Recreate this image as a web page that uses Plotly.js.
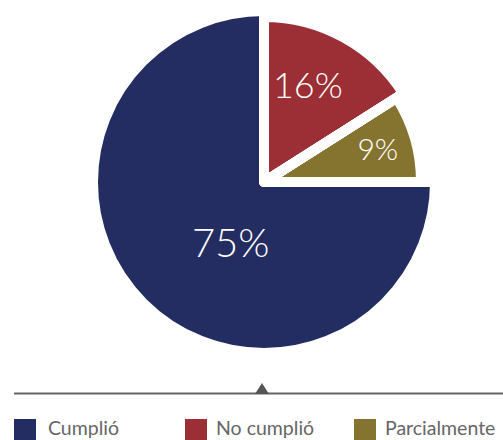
<!DOCTYPE html>
<html><head><meta charset="utf-8">
<script src="https://cdn.plot.ly/plotly-3.0.1.min.js"></script>
<style>html,body{margin:0;padding:0;background:#fff}#chart{width:503px;height:440px}</style>
</head><body><div id="chart"></div>
<script>
// ---- data ----
const labels = ['Cumplió', 'No cumplió', 'Parcialmente'];
const values = [75, 16, 9];
const colors = ['#232d62', '#9b2f35', '#85742f'];

// ---- layout / style (pixels) ----
const W = 503, H = 440, CX = 264, CY = 182;
const sliceRadius = [171, 165, 157];   // each slice drawn at its own radius
const textSizes = [40, 36, 30];
const NB = '\u00a0';
const padBefore = [NB.repeat(5), '', ''];   // nudges labels inside their slices
const padAfter = ['', NB.repeat(2), NB];
const pctFont = 'Lato, "Open Sans", sans-serif';

function dom(R) {
  return {x: [(CX - R) / W, (CX + R) / W], y: [1 - (CY + R) / H, 1 - (CY - R) / H]};
}
const px = x => x / W, py = y => 1 - y / H;

// build one pie per slice radius, smallest first (bottom), larger ones on top
const order = labels.map((_, i) => i).sort((a, b) => sliceRadius[a] - sliceRadius[b]);
const traces = order.map(j => ({
  type: 'pie',
  labels: labels,
  values: values,
  sort: false,
  direction: 'clockwise',
  rotation: 90,
  domain: dom(sliceRadius[j]),
  marker: {
    colors: colors.map((c, i) => sliceRadius[i] >= sliceRadius[j] ? c : 'rgba(0,0,0,0)'),
    line: {color: '#ffffff', width: 10}
  },
  texttemplate: labels.map((_, i) => i === j ? padBefore[i] + '%{percent}' + padAfter[i] : ''),
  textposition: 'inside',
  insidetextorientation: 'horizontal',
  textfont: {family: pctFont, color: '#ffffff', size: textSizes, weight: 300},
  hoverinfo: 'none',
  showlegend: false
}));

// custom legend (squares + labels) and the axis-like rule with a pointer
const legSqX = [14, 185, 354], legTxtX = [49, 217, 386];
const shapes = [
  {type: 'line', xref: 'paper', yref: 'paper', x0: px(14), x1: 1, y0: py(393.5), y1: py(393.5),
   line: {color: '#666666', width: 2}},
  {type: 'path', xref: 'paper', yref: 'paper',
   path: `M ${px(255)},${py(394)} L ${px(269)},${py(394)} L ${px(262)},${py(383)} Z`,
   fillcolor: '#555555', line: {width: 0}}
];
const annotations = [];
labels.forEach((lab, i) => {
  shapes.push({type: 'rect', xref: 'paper', yref: 'paper',
    x0: px(legSqX[i]), x1: px(legSqX[i] + 22), y0: py(440), y1: py(419),
    fillcolor: colors[i], line: {width: 0}});
  annotations.push({xref: 'paper', yref: 'paper', x: px(legTxtX[i] - 2), y: py(427),
    xanchor: 'left', yanchor: 'middle', showarrow: false, text: lab, borderpad: 0,
    font: {family: 'Lato, sans-serif', size: 19.5, color: '#666666'}});
});

const layout = {
  width: W, height: H,
  margin: {l: 0, r: 0, t: 0, b: 0},
  paper_bgcolor: '#ffffff',
  showlegend: false,
  shapes: shapes,
  annotations: annotations
};
Plotly.newPlot('chart', traces, layout, {displayModeBar: false, staticPlot: true});
</script>
</body></html>
